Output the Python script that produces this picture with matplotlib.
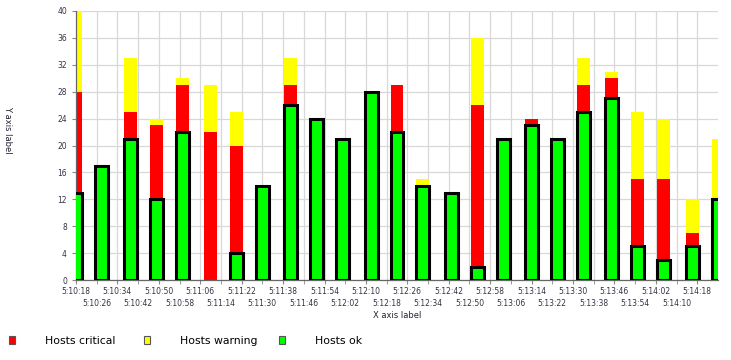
import numpy as np
import matplotlib
matplotlib.use('Agg')
import matplotlib.pyplot as plt
from matplotlib.patches import Patch

# sample times and host counts per state (stacked: ok, critical, warning)
times = ["5:10:18", "5:10:28", "5:10:39", "5:10:49", "5:10:59", "5:11:10", "5:11:20",
         "5:11:30", "5:11:41", "5:11:51", "5:12:01", "5:12:12", "5:12:22", "5:12:32",
         "5:12:43", "5:12:53", "5:13:03", "5:13:14", "5:13:24", "5:13:34", "5:13:45",
         "5:13:55", "5:14:05", "5:14:16", "5:14:26"]
hosts_ok = [13, 17, 21, 12, 22, 0, 4, 14, 26, 24, 21, 28, 22, 14, 13, 2, 21, 23, 21, 25, 27, 5, 3, 5, 12]
hosts_critical = [15, 0, 4, 11, 7, 22, 16, 0, 3, 0, 0, 0, 7, 0, 0, 24, 0, 1, 0, 4, 3, 10, 12, 2, 0]
hosts_warning = [12, 0, 8, 1, 1, 7, 5, 0, 4, 0, 0, 0, 0, 1, 0, 10, 0, 0, 0, 4, 1, 10, 9, 5, 9]

start = "5:10:18"
end = "5:14:26"
tick_step = 8


def to_sec(t):
    h, m, s = (int(p) for p in t.split(':'))
    return h * 3600 + m * 60 + s


def to_label(sec):
    return "%d:%02d:%02d" % (sec // 3600, (sec % 3600) // 60, sec % 60)


x = np.array([to_sec(t) for t in times])
ok = np.array(hosts_ok)
crit = np.array(hosts_critical)
warn = np.array(hosts_warning)

fig = plt.figure(figsize=(7.31, 3.6), dpi=100)
ax = fig.add_axes([76 / 731, 80 / 360, 642 / 731, 269 / 360])

width = 5.0
ax.bar(x, crit, width, bottom=ok, color='#ff0000', linewidth=0, zorder=2)
ax.bar(x, warn, width, bottom=ok + crit, color='#ffff00', linewidth=0, zorder=2)
ax.bar(x, ok, width, color='#00ff00', edgecolor='black',
       linewidth=[2.2 if v > 0 else 0 for v in ok], zorder=3)

ax.set_xlim(to_sec(start), to_sec(end))
ax.set_ylim(0, 40)

# labels alternate between two rows: even ticks as major, odd ticks as minor
ticks = np.arange(to_sec(start), to_sec(end) - tick_step + 1, tick_step)
row1 = ticks[0::2]
row2 = ticks[1::2]
ax.set_xticks(row1)
ax.set_xticklabels([to_label(t) for t in row1], fontsize=5.5, color='#333344')
ax.set_xticks(row2, minor=True)
ax.set_xticklabels([to_label(t) for t in row2], minor=True, fontsize=5.5, color='#333344')
ax.tick_params(axis='x', which='major', length=3, color='#888888', pad=2)
ax.tick_params(axis='x', which='minor', length=3, color='#888888', pad=11)
ax.set_yticks(np.arange(0, 41, 4))
ax.tick_params(axis='y', labelsize=5.5, labelcolor='#333344', length=3, color='#888888')

ax.grid(True, which='both', color='#d8d8d8', linewidth=0.9, zorder=0)
ax.set_axisbelow(True)
for s in ['top', 'right']:
    ax.spines[s].set_visible(False)
for s in ['left', 'bottom']:
    ax.spines[s].set_color('#666666')
    ax.spines[s].set_linewidth(0.9)

ax.set_xlabel('X axis label', fontsize=6, color='#222233', labelpad=2)
fig.text(8 / 731, 1 - 130 / 360, 'Y axis label', rotation=270, fontsize=6,
         color='#222233', ha='center', va='center')

legend_items = [('Hosts critical', '#ff0000', 9), ('Hosts warning', '#ffff00', 144),
                ('Hosts ok', '#00ff00', 279)]
for name, col, px in legend_items:
    h = Patch(facecolor=col, edgecolor='#555555', linewidth=0.8)
    fig.legend(handles=[h], labels=[name], loc='center left',
               bbox_to_anchor=(px / 731, 1 - 341 / 360), frameon=False,
               fontsize=7.8, handlelength=0.55, handleheight=0.8,
               handletextpad=2.8, borderpad=0, borderaxespad=0)

fig.savefig('out.png', dpi=100)
